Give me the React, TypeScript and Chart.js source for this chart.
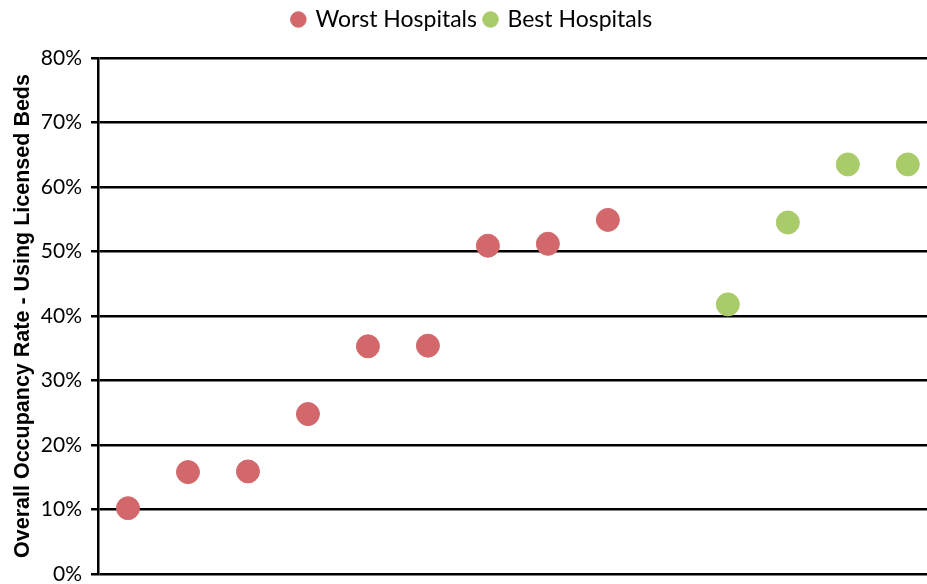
import React, { useEffect, useRef } from "react";
import { Chart, registerables } from "chart.js";

Chart.register(...registerables);

const worstIndex = [0, 1, 2, 3, 4, 5, 6, 7, 8];
const worstValues = [10.2, 15.8, 15.9, 24.8, 35.3, 35.4, 50.9, 51.2, 54.9];
const bestIndex = [10, 11, 12, 13];
const bestValues = [41.8, 54.5, 63.5, 63.5];
const yTicks = [0, 10, 20, 30, 40, 50, 60, 70, 80];

const legendSpacer = {
  id: "legendSpacer",
  beforeInit(chart: any) {
    const legend = chart.legend;
    if (!legend) return;
    const fit = legend.fit;
    legend.fit = function () {
      fit.call(this);
      this.height += 17;
    };
  },
  afterLayout(chart: any) {
    const legend = chart.legend;
    if (!legend) return;
    legend.left += 9;
    legend.right += 9;
  },
};

export default function App() {
  const ref = useRef<HTMLCanvasElement | null>(null);
  useEffect(() => {
    if (!ref.current) return;
    const chart = new Chart(ref.current, {
      type: "scatter",
      data: {
        datasets: [
          {
            label: "Worst Hospitals",
            data: worstIndex.map((x, i) => ({ x, y: worstValues[i] })),
            backgroundColor: "#d2686b",
            borderColor: "#d2686b",
            pointRadius: 11.5,
            pointHoverRadius: 11.5,
          },
          {
            label: "Best Hospitals",
            data: bestIndex.map((x, i) => ({ x, y: bestValues[i] })),
            backgroundColor: "#a9cb6a",
            borderColor: "#a9cb6a",
            pointRadius: 11.5,
            pointHoverRadius: 11.5,
          },
        ],
      },
      plugins: [legendSpacer],
      options: {
        animation: false,
        responsive: false,
        maintainAspectRatio: false,
        layout: { autoPadding: false, padding: { left: 0, right: 0, top: 0, bottom: 10 } },
        plugins: {
          tooltip: { enabled: false },
          legend: {
            position: "top",
            labels: {
              usePointStyle: true,
              pointStyle: "circle",
              boxWidth: 11,
              boxHeight: 11,
              padding: 8,
              color: "#000",
              font: { family: "Lato, sans-serif", size: 23 },
            },
          },
        },
        scales: {
          x: {
            type: "linear",
            min: -0.5,
            max: 13.32,
            display: false,
          },
          y: {
            min: 0,
            max: 80,
            afterFit: (s: any) => {
              s.width = 98;
              s.paddingTop = 0;
              s.paddingBottom = 0;
            },
            afterBuildTicks: (s: any) => {
              s.ticks = yTicks.map((v) => ({ value: v }));
            },
            ticks: {
              color: "#000",
              padding: 9,
              font: { family: "Lato, sans-serif", size: 21 },
              callback: (v: any) => v + "%",
            },
            grid: {
              color: "#000",
              lineWidth: 2.5,
              tickLength: 7,
              drawTicks: true,
            },
            border: { display: true, color: "#000", width: 2.5 },
            title: {
              display: true,
              text: "Overall Occupancy Rate - Using Licensed Beds",
              color: "#000",
              padding: { top: 10, bottom: 0 },
              font: { family: "'Liberation Sans', Arial, sans-serif", size: 21.5, weight: "bold" },
            },
          },
        },
      },
    });
    return () => chart.destroy();
  }, []);
  return (
    <div style={{ position: "absolute", left: 0, top: 0, width: 927, height: 584, background: "#fff" }}>
      <canvas ref={ref} width={927} height={584} style={{ display: "block" }} />
    </div>
  );
}
